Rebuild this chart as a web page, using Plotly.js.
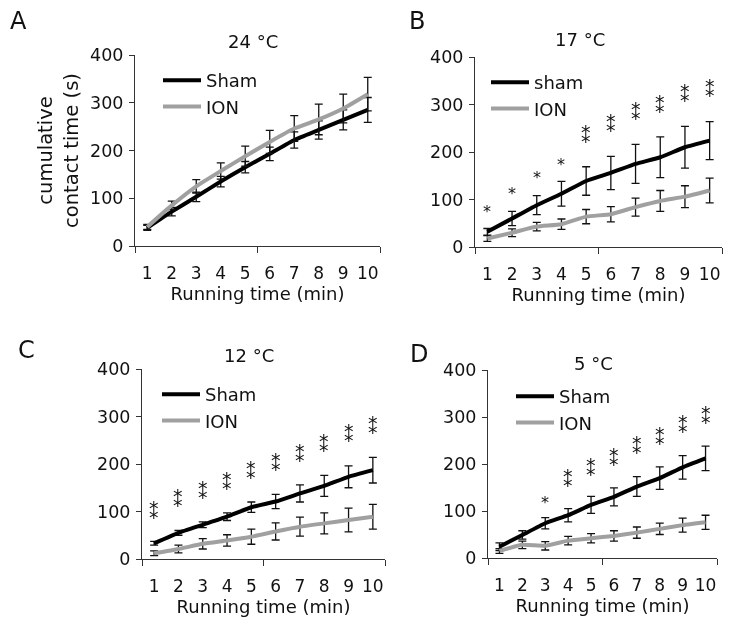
<!DOCTYPE html>
<html>
<head>
<meta charset="utf-8">
<script src="https://cdn.plot.ly/plotly-3.0.1.min.js"></script>
<style>
  html, body { margin: 0; padding: 0; background: #fff; }
  /* the figure is black and grey only: keeps small glyphs free of colour fringes */
  #chart { width: 729px; height: 626px; filter: grayscale(1); }
</style>
</head>
<body>
<div id="chart"></div>
<script>
// running time (min)
var minutes = [1, 2, 3, 4, 5, 6, 7, 8, 9, 10];

// A: 24 °C
var shamA = [38, 72, 103, 135, 165, 193, 222, 243, 264, 285];
var shamAErr = [5, 9, 10, 11, 12, 14, 17, 19, 21, 26];
var ionA = [40, 85, 125, 157, 188, 218, 246, 265, 288, 318];
var ionAErr = [5, 9, 14, 17, 21, 24, 27, 32, 30, 35];

// B: 17 °C
var shamB = [32, 60, 88, 112, 139, 156, 175, 189, 210, 224];
var shamBErr = [7, 15, 20, 26, 30, 35, 41, 43, 44, 40];
var ionB = [18, 30, 43, 48, 64, 69, 84, 97, 106, 119];
var ionBErr = [6, 8, 9, 11, 15, 16, 19, 22, 23, 26];
var starsB = ['*', '*', '*', '*', '**', '**', '**', '**', '**', '**'];
var starYB = [85, 124, 156, 185, 233, 257, 282, 297, 319, 330];

// C: 12 °C
var shamC = [33, 55, 72, 89, 109, 121, 138, 154, 173, 187];
var shamCErr = [4, 5, 6, 8, 11, 15, 18, 22, 23, 27];
var ionC = [12, 21, 32, 39, 47, 58, 68, 75, 82, 89];
var ionCErr = [5, 8, 11, 12, 16, 18, 20, 22, 25, 26];
var starsC = ['**', '**', '**', '**', '**', '**', '**', '**', '**', '**'];
var starYC = [99, 124, 141, 161, 183, 201, 220, 241, 261, 277];

// D: 5 °C
var shamD = [24, 49, 74, 91, 113, 130, 152, 170, 193, 212];
var shamDErr = [8, 9, 12, 14, 18, 19, 21, 24, 25, 26];
var ionD = [15, 28, 26, 37, 42, 47, 54, 62, 70, 76];
var ionDErr = [5, 8, 9, 9, 10, 11, 12, 12, 15, 15];
var starsD = ['', '', '*', '**', '**', '**', '**', '**', '**', '**'];
var starYD = [0, 0, 129, 167, 190, 210, 236, 255, 281, 300];

var W = 729, H = 626;
var FONT = '"DejaVu Sans", Verdana, sans-serif';
var INK = '#111';
var GREY = '#a0a0a0';

function px(x) { return x / W; }
function py(y) { return 1 - y / H; }

var panels = [
  {id: '', letter: 'A', title: '24 °C', sham: 'Sham', s: shamA, se: shamAErr, i: ionA, ie: ionAErr,
   stars: null, starY: null, box: [135, 380, 55, 246], legend: [158, 62], titleXY: [253, 41], letterXY: [18, 21]},
  {id: '2', letter: 'B', title: '17 °C', sham: 'sham', s: shamB, se: shamBErr, i: ionB, ie: ionBErr,
   stars: starsB, starY: starYB, box: [475, 722, 57, 247], legend: [486, 64], titleXY: [580, 40], letterXY: [417, 21]},
  {id: '3', letter: 'C', title: '12 °C', sham: 'Sham', s: shamC, se: shamCErr, i: ionC, ie: ionCErr,
   stars: starsC, starY: starYC, box: [142, 385, 369, 559], legend: [157, 376], titleXY: [249, 356], letterXY: [26, 350]},
  {id: '4', letter: 'D', title: '5 °C', sham: 'Sham', s: shamD, se: shamDErr, i: ionD, ie: ionDErr,
   stars: starsD, starY: starYD, box: [488, 717, 370, 558], legend: [511, 378], titleXY: [593, 363], letterXY: [419, 354]}
];

var data = [];
var layout = {
  width: W, height: H,
  margin: {l: 0, r: 0, t: 0, b: 0},
  paper_bgcolor: '#fff', plot_bgcolor: 'rgba(0,0,0,0)',
  font: {family: FONT, size: 17, color: INK},
  annotations: []
};

panels.forEach(function (p, k) {
  var xa = 'x' + p.id, ya = 'y' + p.id;
  var lg = 'legend' + p.id;
  var line = function (name, ys, err, color) {
    return {
      x: minutes, y: ys, name: name, type: 'scatter', mode: 'lines',
      xaxis: xa, yaxis: ya, legend: lg,
      line: {color: color, width: 4, shape: 'spline', smoothing: 0.4},
      error_y: {type: 'data', array: err, visible: true, color: INK, thickness: 1.3, width: 4},
      hoverinfo: 'skip'
    };
  };
  data.push(line(p.sham, p.s, p.se, '#000'));
  data.push(line('ION', p.i, p.ie, GREY));

  layout['xaxis' + p.id] = {
    domain: [px(p.box[0]), px(p.box[1])], anchor: ya,
    range: [0.5, 10.5], tickmode: 'array', tickvals: minutes,
    ticks: '', ticklabelstandoff: 12, showgrid: false, zeroline: false,
    showline: true, linecolor: '#333', linewidth: 1,
    minor: {tickmode: 'array', tickvals: [0.5, 5.5, 10.5], ticks: 'outside', ticklen: 6, tickcolor: '#333', showgrid: false},
    tickfont: {size: 17},
    title: {text: 'Running time (min)', font: {size: 18}, standoff: 2},
    fixedrange: true
  };
  layout['yaxis' + p.id] = {
    domain: [py(p.box[3]), py(p.box[2])], anchor: xa,
    range: [0, 400], tickmode: 'linear', tick0: 0, dtick: 100,
    ticks: 'outside', ticklen: 5, tickcolor: '#333', showgrid: false, zeroline: false,
    showline: true, linecolor: '#333', linewidth: 1,
    tickfont: {size: 17.5}, ticklabelstandoff: 2,
    fixedrange: true
  };
  if (k === 0) {
    layout.yaxis.title = {text: 'cumulative<br>contact time (s)', font: {size: 19.5}, standoff: 6};
  }
  layout[lg] = {
    x: px(p.legend[0]), y: py(p.legend[1]), xanchor: 'left', yanchor: 'top',
    bgcolor: 'rgba(0,0,0,0)', borderwidth: 0, itemwidth: 38,
    font: {size: 18}, tracegroupgap: 0
  };

  layout.annotations.push({
    xref: 'paper', yref: 'paper', x: px(p.titleXY[0]), y: py(p.titleXY[1]),
    text: p.title, showarrow: false, xanchor: 'center', yanchor: 'middle', font: {size: 18}
  });
  layout.annotations.push({
    xref: 'paper', yref: 'paper', x: px(p.letterXY[0]), y: py(p.letterXY[1]),
    text: p.letter, showarrow: false, xanchor: 'center', yanchor: 'middle', font: {size: 24}
  });

  // significance marks: one star, or two stacked (U+2051)
  if (p.stars) {
    p.stars.forEach(function (s, j) {
      if (!s) return;
      layout.annotations.push({
        xref: xa, yref: ya, x: minutes[j], y: p.starY[j],
        text: s === '**' ? '\u2051' : '*', showarrow: false,
        xanchor: 'center', yanchor: 'middle',
        yshift: s === '**' ? 0 : -5, font: {size: s === '**' ? 19 : 16, color: INK}
      });
    });
  }
});

Plotly.newPlot('chart', data, layout, {displayModeBar: false, staticPlot: true});
</script>
</body>
</html>
